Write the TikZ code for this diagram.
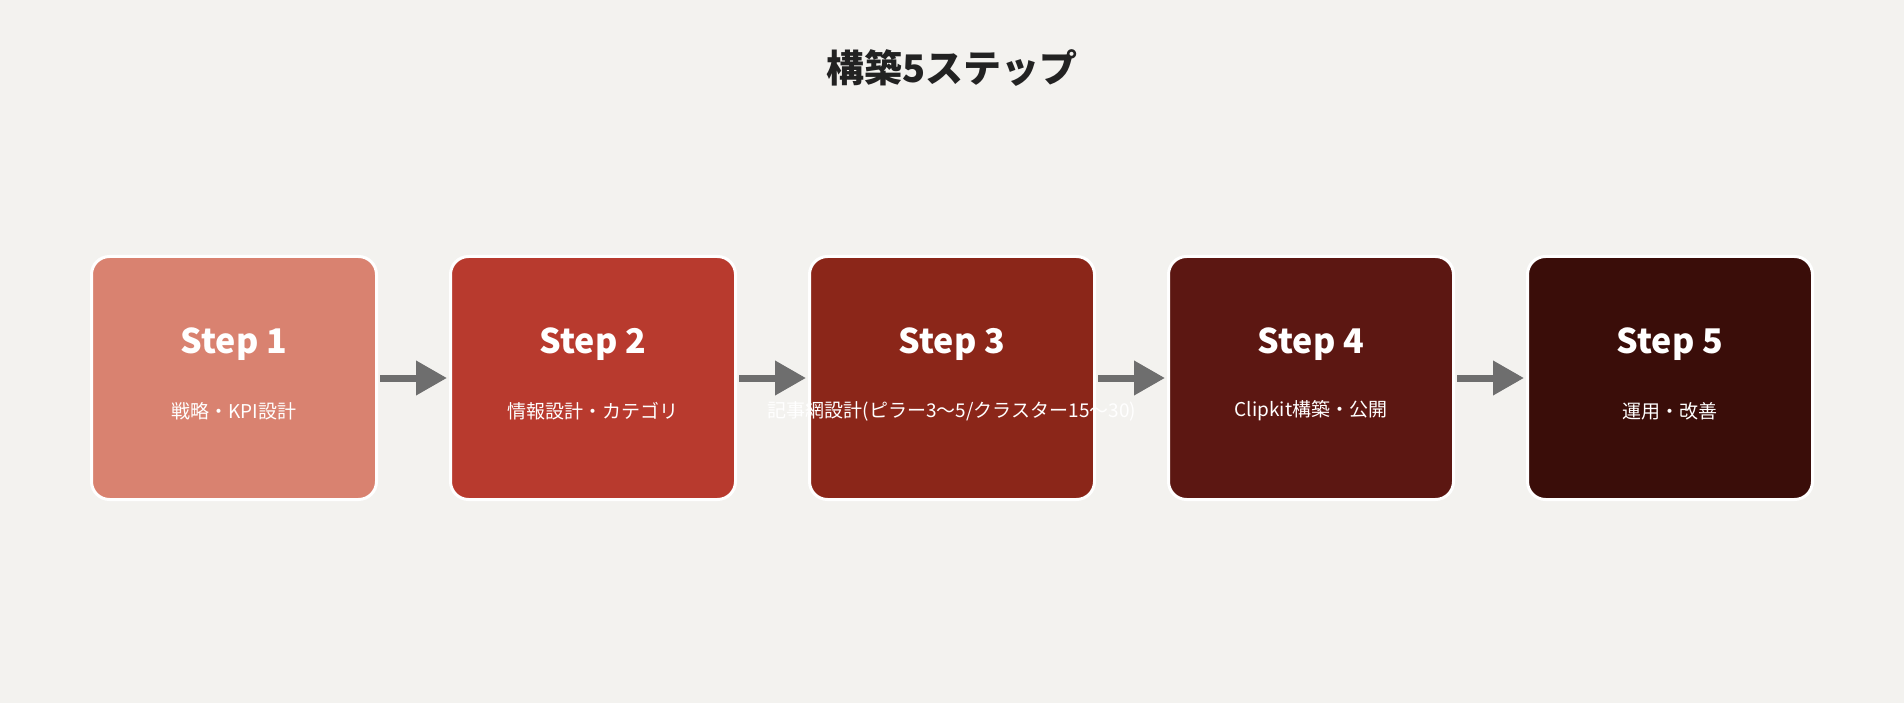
\documentclass[tikz,border=0pt]{standalone}
\usepackage{fontspec}
\setmainfont{Noto Sans CJK JP}
\usetikzlibrary{arrows.meta}
\definecolor{bg}{HTML}{F3F2EF}
\definecolor{cA}{HTML}{D98270}
\definecolor{cB}{HTML}{B83A2E}
\definecolor{cC}{HTML}{8B2619}
\definecolor{cD}{HTML}{5C1712}
\definecolor{cE}{HTML}{3A0D09}
\definecolor{arr}{HTML}{6E6E6E}
\definecolor{ttl}{HTML}{222222}
\begin{document}
\begin{tikzpicture}[x=1pt,y=-1pt,
  box/.style={draw=white,line width=3pt,rounded corners=18pt,minimum width=285pt,minimum height=243pt,inner sep=0pt},
  stp/.style={text=white,font=\fontsize{34}{40}\selectfont\bfseries},
  sub/.style={text=white,font=\fontsize{19}{23}\selectfont},
  conn/.style={draw=arr,line width=7pt,-{Triangle[length=31pt,width=33pt]},shorten <=2pt,shorten >=2pt}]
\fill[bg] (0,0) rectangle (1904,703);
\useasboundingbox (0,0) rectangle (1904,703);
\node[text=ttl,font=\fontsize{38}{44}\selectfont\bfseries] (title) at (952,68) {構築5ステップ};
\foreach \i/\x/\c in {1/234/cA,2/593/cB,3/952/cC,4/1311/cD,5/1670/cE}{
  \node[box,fill=\c] (b\i) at (\x,378) {};
}
\node[stp] (s1) at (234,344) {Step 1};
\node[stp] (s2) at (593,344) {Step 2};
\node[stp] (s3) at (952,344) {Step 3};
\node[stp] (s4) at (1311,344) {Step 4};
\node[stp] (s5) at (1670,344) {Step 5};
\node[sub] (t1) at (234,411) {戦略・KPI設計};
\node[sub] (t2) at (593,411) {情報設計・カテゴリ};
\node[sub] (t3) at (952,411) {記事網設計(ピラー3〜5/クラスター15〜30)};
\node[sub] (t4) at (1311,411) {Clipkit構築・公開};
\node[sub] (t5) at (1670,411) {運用・改善};
\foreach \a/\b in {1/2,2/3,3/4,4/5}{
  \draw[conn] (b\a.east) -- (b\b.west);
}
\end{tikzpicture}
\end{document}
